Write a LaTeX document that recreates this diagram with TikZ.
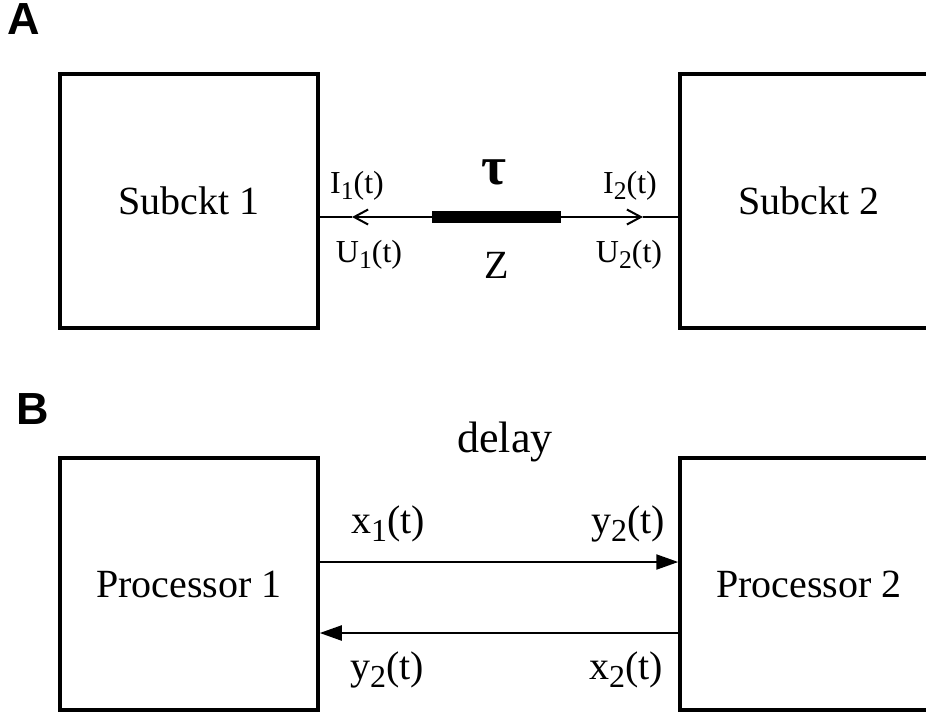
\documentclass[tikz,border=0pt]{standalone}
\usepackage{fontspec}
\setmainfont{Liberation Serif}
\newfontfamily\panelfont{Liberation Sans}
\usetikzlibrary{arrows.meta}

% lowered, slightly reduced index digit
\newcommand\subidx[1]{\raisebox{-0.2em}{\scalebox{0.8}{#1}}}

\tikzset{
  block/.style={draw, line width=3.5pt, minimum width=258pt, minimum height=254pt,
    inner sep=0pt, font=\fontsize{40}{48}\selectfont},
  lbl/.style={anchor=base, inner sep=0pt},
  sigA/.style={lbl, font=\fontsize{32}{38}\selectfont},
  sigB/.style={lbl, font=\fontsize{40}{48}\selectfont},
  wire/.style={line width=2.2pt},
  panel/.style={font=\panelfont\bfseries\fontsize{45}{54}\selectfont, inner sep=0pt},
}

\begin{document}
\begin{tikzpicture}[x=1pt, y=-1pt]
  \clip (0,0) rectangle (926,713);
  \fill[white] (0,0) rectangle (926,713);

  % panel letters
  \node[panel] (pa) at (24,19) {A};
  \node[panel] (pb) at (32.5,409.5) {B};

  % ---- A: two subcircuits joined by a transmission line
  \node[block] (s1) at (189,201) {Subckt 1};
  \node[block] (s2) at (809,201) {Subckt 2};

  \coordinate (aL) at (s1.east |- 0,217);
  \coordinate (aR) at (s2.west |- 0,217);
  \node[fill, minimum width=129pt, minimum height=12pt, inner sep=0pt] (tl) at (496.5,217) {};
  \coordinate (tipL) at (352,217);
  \coordinate (tipR) at (643,217);

  \draw[wire, -{Straight Barb[length=14pt, width=15pt, line width=2pt]}] (tl.west) -- (tipL);
  \draw[wire] (tipL) -- (aL);
  \draw[wire, -{Straight Barb[length=14pt, width=15pt, line width=2pt]}] (tl.east) -- (tipR);
  \draw[wire] (tipR) -- (aR);

  \node[sigA] (i1) at (357,193) {I\subidx{1}(t)};
  \node[sigA] (u1) at (369,262) {U\subidx{1}(t)};
  \node[sigA] (i2) at (630,193) {I\subidx{2}(t)};
  \node[sigA] (u2) at (629,262) {U\subidx{2}(t)};
  \node[lbl, font=\bfseries\fontsize{54}{60}\selectfont] (tau) at (494,184) {τ};
  \node[lbl, font=\fontsize{40}{48}\selectfont] (zz) at (497,278) {Z};

  % ---- B: two processors exchanging delayed signals
  \node[block, minimum height=252pt] (p1) at (189,584) {Processor 1};
  \node[block, minimum height=252pt] (p2) at (809,584) {Processor 2};

  \coordinate (b1L) at (p1.east |- 0,562);
  \coordinate (b1R) at (p2.west |- 0,562);
  \coordinate (b2L) at (p1.east |- 0,633);
  \coordinate (b2R) at (p2.west |- 0,633);
  \draw[wire, -{Triangle[length=22pt, width=15pt]}] (b1L) -- (b1R);
  \draw[wire, -{Triangle[length=22pt, width=15pt]}] (b2R) -- (b2L);

  \node[lbl, font=\fontsize{44}{52}\selectfont] (dl) at (505,452) {delay};
  \node[sigB] (x1) at (388,533) {x\subidx{1}(t)};
  \node[sigB] (y2a) at (628,533) {y\subidx{2}(t)};
  \node[sigB] (y2b) at (387,679) {y\subidx{2}(t)};
  \node[sigB] (x2) at (626,679) {x\subidx{2}(t)};
\end{tikzpicture}
\end{document}
